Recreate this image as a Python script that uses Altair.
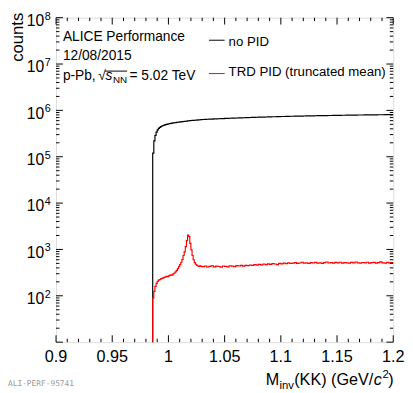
import altair as alt
import pandas as pd

FONT = "Liberation Sans"
W, H = 344, 331

# ---------------- data ----------------
# fine bins (width 0.001) from 0.986 to 1.030, coarse bins (width 0.002) from 1.030 to 1.200
fine_start, fine_n, fine_w = 0.986, 44, 0.001
coarse_start, coarse_n, coarse_w = 1.030, 85, 0.002

nopid_fine = [1.2e5, 2.2e5, 2.9e5, 3.4e5, 3.8e5, 4.1e5, 4.3e5, 4.45e5, 4.6e5, 4.72e5,
              4.82e5, 4.92e5, 5.0e5, 5.07e5, 5.14e5, 5.2e5, 5.26e5, 5.31e5, 5.36e5, 5.41e5,
              5.46e5, 5.5e5, 5.55e5, 5.59e5, 5.63e5, 5.67e5, 5.71e5, 5.75e5, 5.79e5, 5.83e5,
              5.88e5, 5.93e5, 5.97e5, 6.0e5, 6.04e5, 6.07e5, 6.1e5, 6.13e5, 6.16e5, 6.19e5,
              6.22e5, 6.25e5, 6.28e5, 6.31e5]
nopid_coarse_e5 = [6.35, 6.39, 6.43, 6.47, 6.50, 6.54, 6.57, 6.61, 6.64, 6.67,
                   6.70, 6.73, 6.77, 6.80, 6.83, 6.86, 6.89, 6.92, 6.94, 6.97,
                   7.00, 7.03, 7.05, 7.08, 7.11, 7.13, 7.16, 7.18, 7.21, 7.23,
                   7.26, 7.28, 7.30, 7.33, 7.35, 7.37, 7.39, 7.41, 7.43, 7.46,
                   7.48, 7.50, 7.52, 7.53, 7.55, 7.57, 7.59, 7.61, 7.63, 7.64,
                   7.66, 7.68, 7.69, 7.71, 7.73, 7.74, 7.76, 7.77, 7.79, 7.80,
                   7.82, 7.83, 7.85, 7.86, 7.87, 7.89, 7.90, 7.91, 7.93, 7.94,
                   7.95, 7.96, 7.98, 7.99, 8.00, 8.01, 8.02, 8.03, 8.04, 8.05,
                   8.06, 8.07, 8.08, 8.09, 8.10]

trd_fine = [90, 125, 160, 185, 205, 218, 224, 232, 238, 244,
            250, 256, 262, 258, 270, 276, 284, 280, 298, 310,
            328, 352, 385, 425, 470, 530, 610, 740, 890, 1150,
            1550, 2050, 1900, 1350, 980, 740, 600, 520, 480, 455,
            440, 432, 445, 430]
trd_coarse = [425, 440, 418, 430, 445, 422, 435, 428, 415, 440,
              432, 420, 445, 438, 425, 448, 440, 452, 436, 455,
              447, 460, 452, 470, 458, 475, 466, 485, 472, 490,
              478, 495, 486, 470, 500, 490, 505, 495, 512, 498,
              505, 520, 500, 510, 530, 505, 515, 498, 520, 510,
              525, 505, 515, 500, 520, 535, 510, 518, 505, 525,
              512, 530, 508, 520, 515, 505, 525, 512, 535, 515,
              505, 522, 512, 530, 508, 518, 525, 505, 520, 540,
              512, 508, 525, 515, 520]

empty_bin = 1  # bins below threshold are empty (drawn below the frame)

x_tick_vals = [0.9, 0.95, 1.0, 1.05, 1.1, 1.15, 1.2]
x_tick_labels = ["0.9", "0.95", "1", "1.05", "1.1", "1.15", "1.2"]
x_minor_vals = [0.91, 0.92, 0.93, 0.94, 0.96, 0.97, 0.98, 0.99, 1.01, 1.02, 1.03, 1.04,
                1.06, 1.07, 1.08, 1.09, 1.11, 1.12, 1.13, 1.14, 1.16, 1.17, 1.18, 1.19]
y_decades = [1e1, 1e2, 1e3, 1e4, 1e5, 1e6, 1e7, 1e8]
y_label_vals = [1e2, 1e3, 1e4, 1e5, 1e6, 1e7, 1e8]
y_label_exps = ["2", "3", "4", "5", "6", "7", "8"]
y_minor_mult = [2, 3, 4, 5, 6, 7, 8, 9]

# ---------------- build tables ----------------
edges = [0.9] + [round(fine_start + i * fine_w, 3) for i in range(fine_n)] + \
        [round(coarse_start + i * coarse_w, 3) for i in range(coarse_n)] + [1.2]


def hist_df(fine, coarse):
    vals = [empty_bin] + list(fine) + list(coarse)
    vals = vals + [vals[-1]]
    return pd.DataFrame({"x": edges, "y": vals})


df_nopid = hist_df(nopid_fine, [v * 1e5 for v in nopid_coarse_e5])
df_trd = hist_df(trd_fine, trd_coarse)

xs = alt.Scale(domain=[0.9, 1.2], nice=False, zero=False)
ys = alt.Scale(type="log", domain=[10, 1e8], nice=False)

X = alt.X("x:Q", scale=xs, axis=None)
Y = alt.Y("y:Q", scale=ys, axis=None)

line_nopid = alt.Chart(df_nopid).mark_line(interpolate="step-after", clip=True, color="black",
                                           strokeWidth=1.2).encode(x=X, y=Y)
line_trd = alt.Chart(df_trd).mark_line(interpolate="step-after", clip=True, color="#ff0000",
                                       strokeWidth=1.2).encode(x=X, y=Y)

# ticks (inside the frame, mirrored)
df_xmaj = pd.DataFrame({"x": x_tick_vals, "label": x_tick_labels})
df_xmin = pd.DataFrame({"x": x_minor_vals})
df_ymaj = pd.DataFrame({"y": y_decades})
df_ymin = pd.DataFrame({"y": [m * d for d in y_decades[:-1] for m in y_minor_mult]})
df_ylab = pd.DataFrame({"y": y_label_vals, "e": y_label_exps})

TMAJ, TMIN = 7, 3.5
tick_layers = []
for df, ln in [(df_xmaj, TMAJ), (df_xmin, TMIN)]:
    tick_layers.append(alt.Chart(df).mark_rule(color="black", strokeWidth=1).encode(
        x=X, y=alt.value(H), y2=alt.value(H - ln)))
    tick_layers.append(alt.Chart(df).mark_rule(color="black", strokeWidth=1).encode(
        x=X, y=alt.value(0), y2=alt.value(ln)))
for df, ln in [(df_ymaj, TMAJ), (df_ymin, TMIN)]:
    tick_layers.append(alt.Chart(df).mark_rule(color="black", strokeWidth=1).encode(
        y=Y, x=alt.value(0), x2=alt.value(ln)))
    tick_layers.append(alt.Chart(df).mark_rule(color="black", strokeWidth=1).encode(
        y=Y, x=alt.value(W), x2=alt.value(W - ln)))

x_labels = alt.Chart(df_xmaj).mark_text(font=FONT, fontSize=16.5, align="center",
                                        baseline="alphabetic", color="black").encode(
    x=X, y=alt.value(H + 20), text="label:N")
y_labels10 = alt.Chart(df_ylab).mark_text(font=FONT, fontSize=16, align="right",
                                          baseline="alphabetic", dy=8.5, color="black").encode(
    y=Y, x=alt.value(-12), text=alt.value("10"))
y_labels_exp = alt.Chart(df_ylab).mark_text(font=FONT, fontSize=11, align="left",
                                            baseline="alphabetic", dy=2, color="black").encode(
    y=Y, x=alt.value(-11.5), text="e:N")


def txt(s, x, y, size=14, align="left", style="normal", color="black", font=FONT, angle=0):
    kw = dict(align=align, baseline="alphabetic", fontSize=size, font=font,
              fontStyle=style, color=color)
    if angle:
        kw["angle"] = angle
    return alt.Chart(pd.DataFrame({"t": [s]})).mark_text(**kw).encode(
        text="t:N", x=alt.value(x), y=alt.value(y))


def hrule(x1, x2, y, color="black", w=1):
    return alt.Chart(pd.DataFrame({"a": [0]})).mark_rule(color=color, strokeWidth=w).encode(
        x=alt.value(x1), x2=alt.value(x2), y=alt.value(y))


texts = [
    txt("ALICE Performance", 7, 24),
    txt("12/08/2015", 7, 43),
    txt("p-Pb,", 7, 63.5),
    txt("\u221a", 43, 63.5),
    hrule(50, 72.5, 54.5),
    txt("s", 50.5, 63.5, style="italic"),
    txt("NN", 58, 67, size=10),
    txt("= 5.02 TeV", 75, 63.5),
    hrule(156, 172, 23, color="black"),
    txt("no PID", 176, 29, size=13.5),
    hrule(156, 172, 57, color="#ff0000"),
    txt("TRD PID (truncated mean)", 176, 60, size=13.5),
    # axis titles
    txt("counts", -34, -5, size=17, align="right", angle=270),
    txt("M", 214, 375, size=16.5),
    txt("inv", 228, 378.5, size=11.5),
    txt("(KK) (GeV/", 243, 375, size=16.5),
    txt("c", 324, 375, size=16.5, style="italic"),
    txt("2", 333, 368, size=11.5),
    txt(")", 339, 375, size=16.5),
    txt("ALI-PERF-95741", -49, 376, size=8, font="DejaVu Sans Mono", color="#9a9a9a"),
]

chart = alt.layer(
    line_nopid, line_trd, *tick_layers, x_labels, y_labels10, y_labels_exp, *texts
).properties(
    width=W, height=H,
    autosize=alt.AutoSizeParams(type="none"),
    padding={"left": 49, "top": 6, "right": 12, "bottom": 48},
).configure_view(stroke="black", strokeWidth=1).configure(background="white")

chart.save("out.html", embed_options={"renderer": "svg", "actions": False})
